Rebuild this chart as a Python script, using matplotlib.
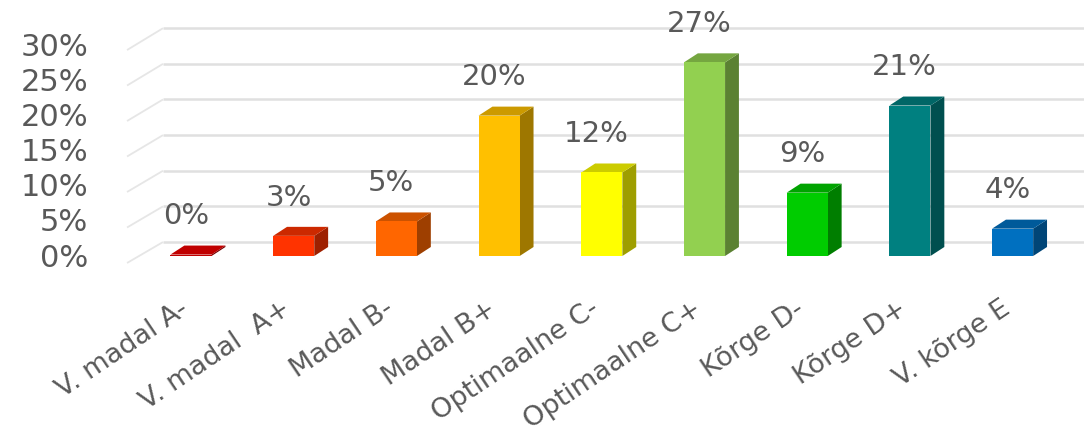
import matplotlib
matplotlib.use("Agg")
import numpy as np
import matplotlib.pyplot as plt
from matplotlib.patches import Polygon
from matplotlib.colors import to_rgb

categories = ["V. madal A-", "V. madal  A+", "Madal B-", "Madal B+", "Optimaalne C-",
              "Optimaalne C+", "Kõrge D-", "Kõrge D+", "V. kõrge E"]
values = [0.2, 2.8, 4.8, 19.5, 11.6, 26.9, 8.8, 20.9, 3.8]
labels = ["0%", "3%", "5%", "20%", "12%", "27%", "9%", "21%", "4%"]
colors = ["#c00000", "#ff3300", "#ff6600", "#ffc000", "#ffff00",
          "#92d050", "#00cc00", "#008080", "#0070c0"]
yticks = [0, 5, 10, 15, 20, 25, 30]

TEXT = "#595959"
GRID = "#e0e0e0"

# pseudo-3D geometry (data units)
bar_w = 0.40
dep_x = 0.135
dep_y = 1.25


def shade(c, f):
    r, g, b = to_rgb(c)
    return (r * f, g * f, b * f)


fig = plt.figure(figsize=(10.84, 4.38), dpi=100)
ax = fig.add_axes([0, 0, 1, 1])
ax.set_xlim(-1.86, 8.695)
ax.set_ylim(-25.28, 35.56)
ax.axis("off")

# back wall gridlines with floor diagonals
for v in yticks:
    yf = v * 0.986 - 0.97
    yb = v * 0.99 + 1.94
    ax.plot([-0.623, -0.273], [yf, yb], color="#e6e6e6", lw=1.3, zorder=1,
            solid_capstyle="butt")
    ax.plot([-0.273, 8.7], [yb, yb], color=GRID, lw=1.8, zorder=1,
            solid_capstyle="butt")
    ax.text(-1.0, v * 0.975 - 0.28, f"{v}%", ha="right", va="center",
            fontsize=22, color=TEXT)

x = np.arange(len(categories))
bars = ax.bar(x, values, width=bar_w, color=colors, zorder=3, linewidth=0)

for xi, v, c in zip(x, values, colors):
    x0 = xi - bar_w / 2
    x1 = xi + bar_w / 2
    top_f = 1.0 if v < 1 else 0.80
    side = Polygon([(x1, 0), (x1 + dep_x, dep_y), (x1 + dep_x, v + dep_y), (x1, v)],
                   closed=True, facecolor=shade(c, 0.62), edgecolor="none", zorder=2)
    top = Polygon([(x0, v), (x0 + dep_x, v + dep_y), (x1 + dep_x, v + dep_y), (x1, v)],
                  closed=True, facecolor=shade(c, top_f), edgecolor="none", zorder=2)
    ax.add_patch(side)
    ax.add_patch(top)

# value labels
for xi, v, lab in zip(x, values, labels):
    ax.text(xi - 0.05, v + 5.3, lab, ha="center", va="center",
            fontsize=21, color=TEXT)

# category labels
for xi, cat in zip(x, categories):
    ax.text(xi - 0.12, -5.5, cat, ha="right", va="top", rotation=34,
            rotation_mode="anchor", fontsize=19.5, color=TEXT)

fig.savefig("out.png", dpi=100, facecolor="white")
